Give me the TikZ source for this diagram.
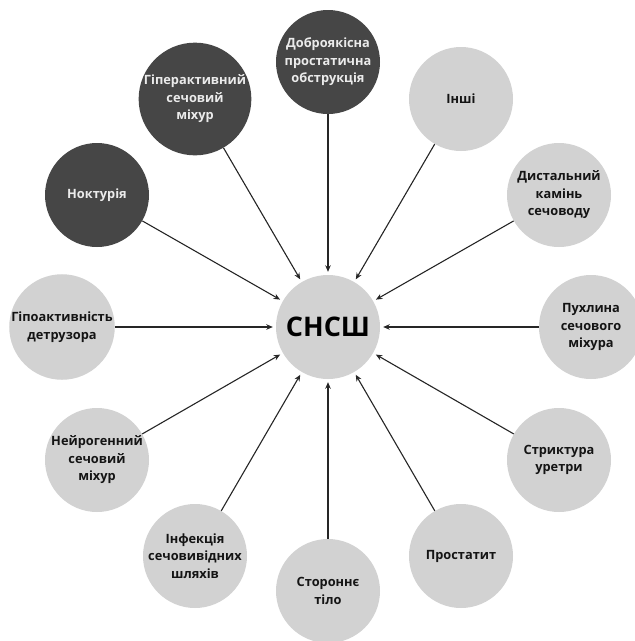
\documentclass[tikz,border=0pt]{standalone}
\usepackage{fontspec}
\setmainfont{Open Sans}
\usetikzlibrary{arrows.meta}
\definecolor{darkc}{RGB}{70,70,70}
\definecolor{lightc}{RGB}{210,210,210}
\definecolor{darktxt}{RGB}{235,235,235}
\definecolor{lighttxt}{RGB}{20,20,20}
\tikzset{
  bub/.style={circle, minimum size=104pt, inner sep=0pt, align=center,
    font=\fontsize{12.8}{17.5}\selectfont\bfseries},
  darkbub/.style={bub, fill=darkc, text=darktxt},
  lightbub/.style={bub, fill=lightc, text=lighttxt},
  hub/.style={circle, minimum size=104pt, inner sep=0pt, fill=lightc, text=black,
    font=\fontsize{27}{30}\selectfont\bfseries},
  arr/.style={-{Stealth[length=6.5pt,width=5.5pt]}, line width=1.1pt, black!85, shorten >=3pt},
}
\begin{document}
\begin{tikzpicture}[x=1pt,y=-1pt]
\useasboundingbox (0,0) rectangle (635,641);
\fill[white] (0,0) rectangle (635,641);
\node[hub] (c) at (328,327) {СНСШ};
\node[darkbub] (n90) at (328,62) {Доброякісна\\простатична\\обструкція};
\node[darkbub] (n120) at (195,99) {Гіперактивний\\сечовий\\міхур};
\node[darkbub] (n150) at (97,195) {Ноктурія};
\node[lightbub] (n180) at (62,327) {Гіпоактивність\\детрузора};
\node[lightbub] (n210) at (97,460) {Нейрогенний\\сечовий\\міхур};
\node[lightbub] (n240) at (195,556) {Інфекція\\сечовивідних\\шляхів};
\node[lightbub] (n270) at (328,591) {Стороннє\\тіло};
\node[lightbub] (n300) at (461,556) {Простатит};
\node[lightbub] (n330) at (559,460) {Стриктура\\уретри};
\node[lightbub] (n0) at (591,327) {Пухлина\\сечового\\міхура};
\node[lightbub] (n30) at (559,195) {Дистальний\\камінь\\сечоводу};
\node[lightbub] (n60) at (461,99) {Інші};
\foreach \n in {n90,n120,n150,n180,n210,n240,n270,n300,n330,n0,n30,n60}
  \draw[arr] (\n) -- (c);
\end{tikzpicture}
\end{document}
